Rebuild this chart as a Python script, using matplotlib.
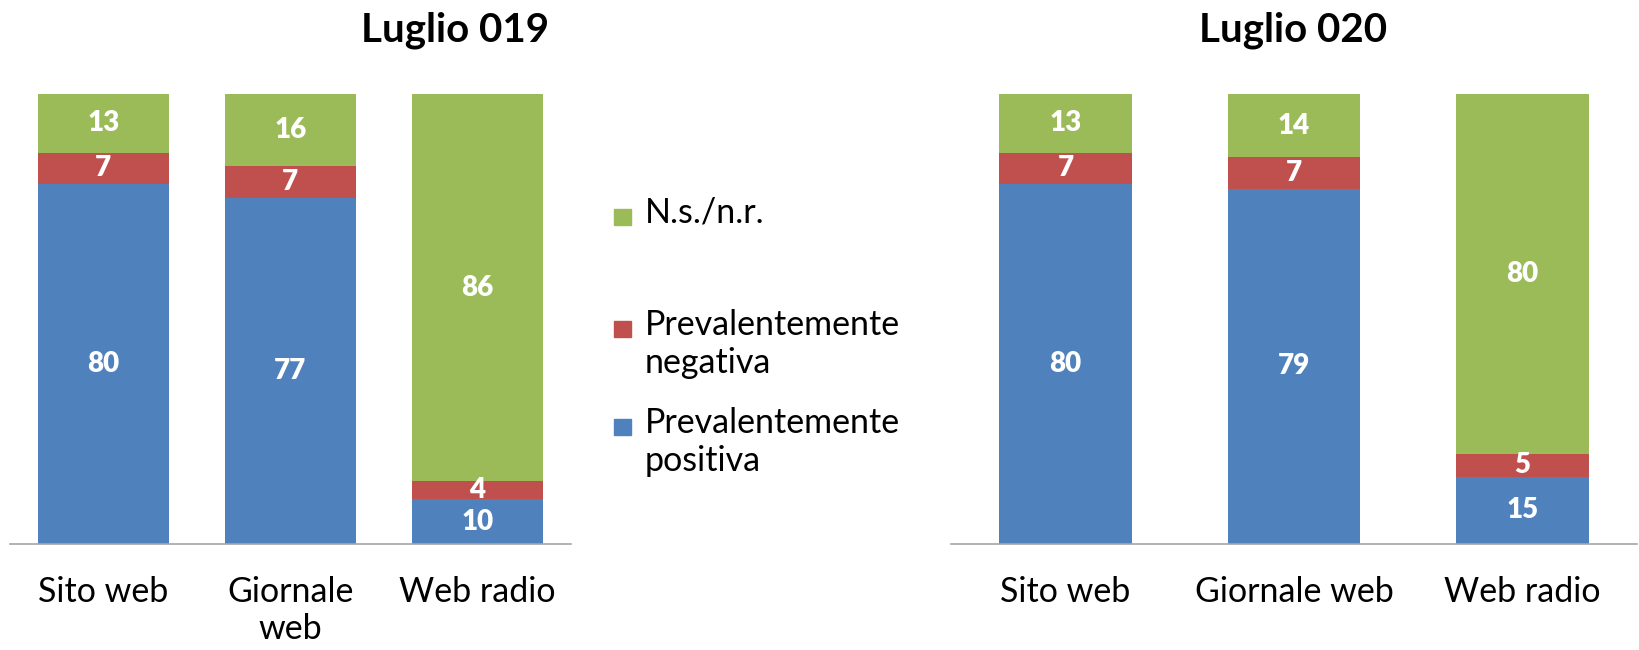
import matplotlib
matplotlib.use("Agg")
import matplotlib.pyplot as plt
from matplotlib.patches import Rectangle

plt.rcParams['font.family'] = ['Lato', 'DejaVu Sans']

categories_2019 = ["Sito web", "Giornale\nweb", "Web radio"]
categories_2020 = ["Sito web", "Giornale web", "Web radio"]
series = ["Prevalentemente positiva", "Prevalentemente negativa", "N.s./n.r."]
colors = ["#4F81BD", "#C0504D", "#9BBB59"]

positiva_2019 = [80, 77, 10]
negativa_2019 = [7, 7, 4]
nsnr_2019 = [13, 16, 86]

positiva_2020 = [80, 79, 15]
negativa_2020 = [7, 7, 5]
nsnr_2020 = [13, 14, 80]

fig = plt.figure(figsize=(16.4, 6.5), dpi=100)
ax1 = fig.add_axes([0.006, 0.163, 0.342, 0.692])
ax2 = fig.add_axes([0.580, 0.163, 0.418, 0.692])


def draw(ax, cats, values, width):
    x = range(len(cats))
    bottom = [0] * len(cats)
    for vals, col in zip(values, colors):
        bars = ax.bar(x, vals, width, bottom=bottom, color=col)
        ax.bar_label(bars, labels=[str(v) for v in vals], label_type='center',
                     color='white', fontsize=20, fontweight='heavy')
        bottom = [b + v for b, v in zip(bottom, vals)]
    ax.set_xlim(-0.5, len(cats) - 0.5)
    ax.set_ylim(0, 100)
    ax.set_xticks(list(x))
    ax.set_xticklabels(cats, fontsize=24.5, linespacing=1.2)
    ax.tick_params(axis='x', length=0, pad=23)
    ax.set_yticks([])
    for s in ['top', 'left', 'right']:
        ax.spines[s].set_visible(False)
    ax.spines['bottom'].set_color('#A6A6A6')
    ax.spines['bottom'].set_linewidth(1.2)


draw(ax1, categories_2019, [positiva_2019, negativa_2019, nsnr_2019], 0.70)
draw(ax2, categories_2020, [positiva_2020, negativa_2020, nsnr_2020], 0.58)

fig.text(455 / 1640, 1 - 30 / 650, "Luglio 019", ha='center', va='center',
         fontsize=29, fontweight='bold')
fig.text(1293 / 1640, 1 - 30 / 650, "Luglio 020", ha='center', va='center',
         fontsize=29, fontweight='bold')

# legend, drawn by hand to keep Excel's uneven spacing
legend_labels = ["N.s./n.r.", "Prevalentemente\nnegativa", "Prevalentemente\npositiva"]
legend_colors = [colors[2], colors[1], colors[0]]
legend_y = [217, 329, 427]
for lab, col, yp in zip(legend_labels, legend_colors, legend_y):
    fig.patches.append(Rectangle((614 / 1640, 1 - (yp + 8) / 650), 17 / 1640, 16 / 650,
                                 transform=fig.transFigure, color=col))
    fig.text(645 / 1640, 1 - (yp - 20) / 650, lab, ha='left', va='top',
             fontsize=24.5, linespacing=1.22)

fig.savefig("out.png", dpi=100)
